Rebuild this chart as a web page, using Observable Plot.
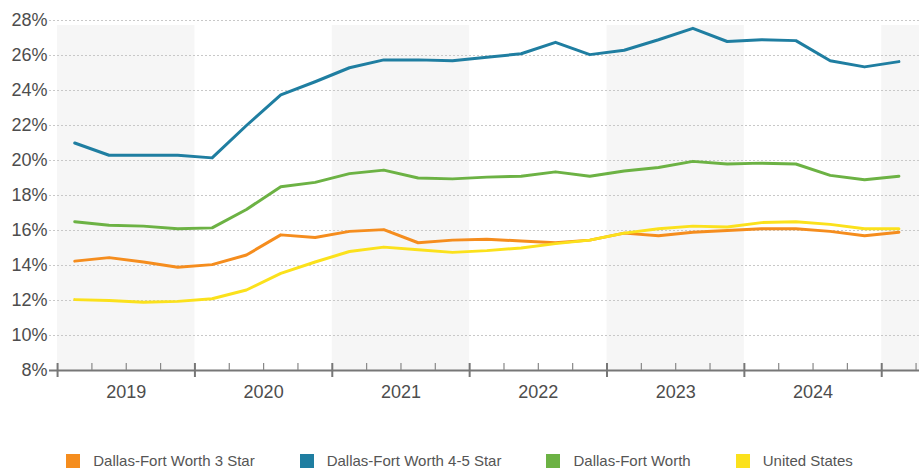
<!DOCTYPE html>
<html>
<head>
<meta charset="utf-8">
<script src="https://cdn.jsdelivr.net/npm/d3@7"></script>
<script src="https://cdn.jsdelivr.net/npm/@observablehq/plot@0.6"></script>
<style>
  html, body { margin: 0; padding: 0; background: #fff; }
  body { width: 919px; height: 470px; overflow: hidden; font-family: "Liberation Sans", Arial, sans-serif; }
  #legend { display: flex; justify-content: center; gap: 45px; margin-top: 42px; height: 18px; line-height: 18px; font-size: 15px; color: #555; }
  .item { display: flex; align-items: center; }
  .sw { width: 14px; height: 14px; margin-right: 13px; }
</style>
</head>
<body>
<div id="chart"></div>
<div id="legend"></div>
<script>
// Quarters 2019 Q1 .. 2025 Q1
const quarters = ["2019 Q1","2019 Q2","2019 Q3","2019 Q4","2020 Q1","2020 Q2","2020 Q3","2020 Q4",
  "2021 Q1","2021 Q2","2021 Q3","2021 Q4","2022 Q1","2022 Q2","2022 Q3","2022 Q4",
  "2023 Q1","2023 Q2","2023 Q3","2023 Q4","2024 Q1","2024 Q2","2024 Q3","2024 Q4","2025 Q1"];
const dfw3Star = [14.25,14.45,14.2,13.9,14.05,14.6,15.75,15.6,15.95,16.05,15.3,15.45,15.5,15.4,15.3,15.45,15.85,15.7,15.9,16.0,16.1,16.1,15.95,15.7,15.9];
const dfw45Star = [21.0,20.3,20.3,20.3,20.15,22.0,23.75,24.5,25.3,25.75,25.75,25.7,25.9,26.1,26.75,26.05,26.3,26.9,27.55,26.8,26.9,26.85,25.7,25.35,25.65];
const dfwAll = [16.5,16.3,16.25,16.1,16.15,17.2,18.5,18.75,19.25,19.45,19.0,18.95,19.05,19.1,19.35,19.1,19.4,19.6,19.95,19.8,19.85,19.8,19.15,18.9,19.1];
const unitedStates = [12.05,12.0,11.9,11.95,12.1,12.6,13.55,14.2,14.8,15.05,14.9,14.75,14.85,15.0,15.25,15.45,15.85,16.1,16.25,16.2,16.45,16.5,16.35,16.1,16.1];
const seriesNames = ["Dallas-Fort Worth 3 Star","Dallas-Fort Worth 4-5 Star","Dallas-Fort Worth","United States"];
const seriesColors = ["#f58d1e","#1f7ea1","#6cb244","#fbe11c"];
const yTicks = [8,10,12,14,16,18,20,22,24,26,28];
const years = [2019,2020,2021,2022,2023,2024];
const shadedYears = [2019,2021,2023,2025];

const seriesValues = [dfw3Star, dfw45Star, dfwAll, unitedStates];
const rows = [];
seriesValues.forEach((vals, s) => vals.forEach((v, i) => rows.push({series: seriesNames[s], t: i + 0.5, q: quarters[i], value: v})));
const firstYear = 2019;
const bands = shadedYears.map(y => ({x1: (y - firstYear) * 4, x2: (y - firstYear) * 4 + 4}));
const yearCenters = years.map(y => (y - firstYear) * 4 + 2);
const yearBounds = d3.range(0, quarters.length + 1, 4);
const quarterBounds = d3.range(0, quarters.length + 1).filter(d => d % 4 !== 0);

const chart = Plot.plot({
  width: 919,
  height: 410,
  marginTop: 20,
  marginBottom: 40,
  marginLeft: 49,
  marginRight: 0,
  style: {fontFamily: "'Liberation Sans', Arial, sans-serif", fontSize: "18px", color: "#4d4d4d", background: "#fff"},
  x: {domain: [-0.235, 25.1], label: null},
  y: {domain: [8, 28], label: null},
  color: {domain: seriesNames, range: seriesColors},
  marks: [
    Plot.rect(bands, {x1: "x1", x2: "x2", y1: 8, y2: 28, insetTop: 5, fill: "#f6f6f6", clip: true}),
    Plot.ruleY(yTicks.filter(d => d > 8), {stroke: "#c8c8c8", strokeWidth: 1, strokeDasharray: "2,2"}),
    Plot.axisY({ticks: yTicks, tickSize: 0, tickPadding: 2, tickFormat: d => d + "%", fill: "#4d4d4d", fontSize: 18, label: null}),
    Plot.axisX({ticks: yearCenters, tickSize: 0, tickPadding: 15, tickFormat: d => String(firstYear + (d - 2) / 4), fill: "#4d4d4d", fontSize: 18, label: null}),
    Plot.ruleY([8], {stroke: "#777", strokeWidth: 2}),
    Plot.ruleX(yearBounds, {x: d => d, y1: 8, y2: 8, insetTop: -7, insetBottom: -7, stroke: "#777", strokeWidth: 2}),
    Plot.ruleX(quarterBounds, {x: d => d, y1: 8, y2: 8, insetTop: -7, insetBottom: 0, stroke: "#888", strokeWidth: 1.2}),
    Plot.line(rows, {x: "t", y: "value", z: "series", stroke: "series", strokeWidth: 3})
  ]
});
document.getElementById("chart").appendChild(chart);

const legend = document.getElementById("legend");
seriesNames.forEach((name, i) => {
  const item = document.createElement("div");
  item.className = "item";
  const sw = document.createElement("span");
  sw.className = "sw";
  sw.style.background = seriesColors[i];
  const label = document.createElement("span");
  label.textContent = name;
  item.appendChild(sw);
  item.appendChild(label);
  legend.appendChild(item);
});
</script>
</body>
</html>
